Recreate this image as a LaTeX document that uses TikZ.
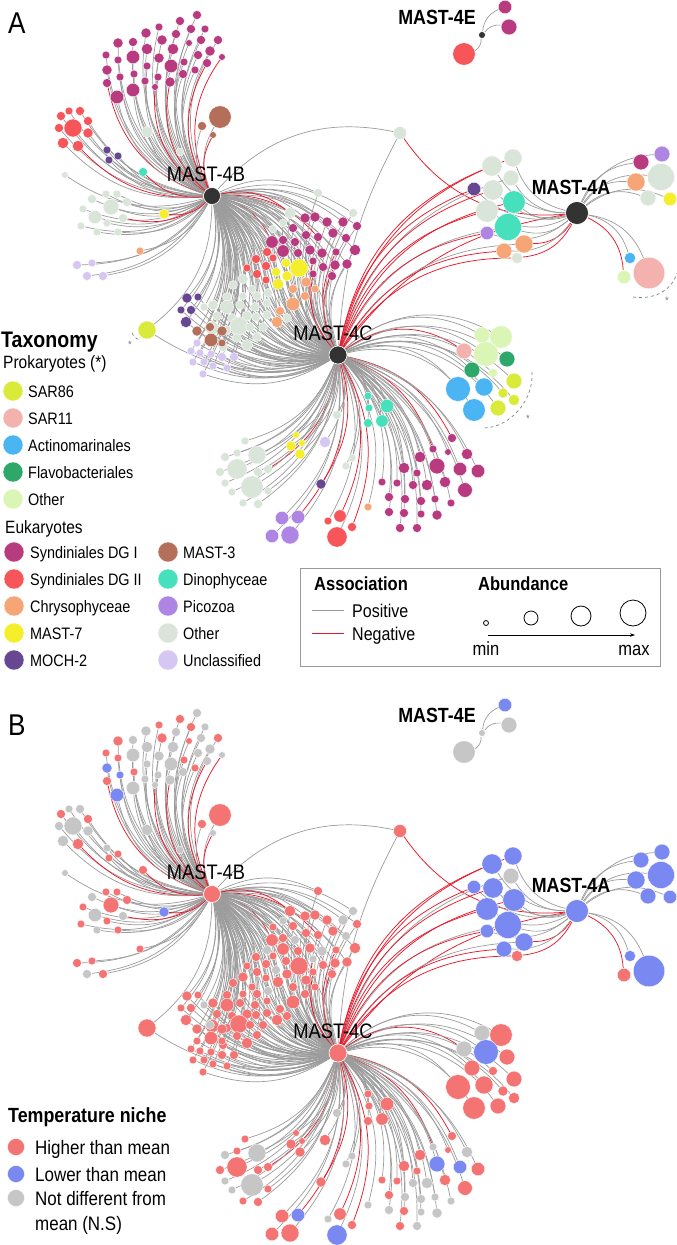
\documentclass[tikz,border=0pt]{standalone}
\usepackage{fontspec}
\setmainfont{Liberation Sans}[FakeStretch=0.87]
\usetikzlibrary{arrows.meta}
\pgfdeclarelayer{bg}
\pgfdeclarelayer{edges}
\pgfsetlayers{bg,edges,main}
\definecolor{sa}{HTML}{D9EA3A}
\definecolor{sb}{HTML}{F3B2AE}
\definecolor{ac}{HTML}{4BB4F2}
\definecolor{fl}{HTML}{2EA86A}
\definecolor{op}{HTML}{DAF5B6}
\definecolor{da}{HTML}{B83B80}
\definecolor{db}{HTML}{F6555A}
\definecolor{ch}{HTML}{F6A676}
\definecolor{my}{HTML}{F5EF2B}
\definecolor{mo}{HTML}{674791}
\definecolor{mt}{HTML}{B46F5A}
\definecolor{di}{HTML}{46E0BD}
\definecolor{pi}{HTML}{AE85E3}
\definecolor{oe}{HTML}{D8E5D8}
\definecolor{un}{HTML}{D5C6F2}
\definecolor{hub}{HTML}{333333}
\definecolor{hi}{HTML}{F47474}
\definecolor{lo}{HTML}{7A89F2}
\definecolor{ns}{HTML}{C6C6C6}
\definecolor{posc}{HTML}{9C9C9C}
\definecolor{negc}{HTML}{E8192C}
\tikzset{
 leaf/.style={circle, draw=white, line width=0.35pt, inner sep=0pt},
 hubn/.style={circle, draw=white, line width=0.6pt, inner sep=0pt},
 posl/.style={draw=posc, line width=0.7pt},
 negl/.style={draw=negc, line width=0.75pt},
 hlab/.style={inner sep=0pt, font=\fontsize{21}{24}\selectfont},
 hlabb/.style={inner sep=0pt, font=\bfseries\fontsize{20.5}{24}\selectfont},
 itemt/.style={inner sep=0pt, anchor=base west, font=\fontsize{16.6}{19}\selectfont},
 headt/.style={inner sep=0pt, anchor=base west, font=\fontsize{17.8}{20}\selectfont},
 bheadt/.style={inner sep=0pt, anchor=base west, font=\bfseries\fontsize{22.5}{26}\selectfont},
 lheadt/.style={inner sep=0pt, anchor=base west, font=\bfseries\fontsize{19}{22}\selectfont},
 litemt/.style={inner sep=0pt, anchor=base west, font=\fontsize{18.4}{21}\selectfont},
 titemt/.style={inner sep=0pt, anchor=base west, font=\fontsize{19.5}{22}\selectfont},
 astx/.style={inner sep=0pt, text=gray, font=\fontsize{11}{12}\selectfont},
 dshl/.style={draw=gray, dashed, line width=0.7pt},
}
% #1 id, #2 hub1, #3 hub2 (or empty), #4 bend, #5 list x/y/r/colA/colB/neg
\newcommand\grp[5]{%
 \foreach \px/\py/\pr/\ca/\cb/\ng [count=\i] in {#5} {%
  \ifnum\panel=0 \edef\fc{\ca}\else\edef\fc{\cb}\fi
  \node[leaf, fill=\fc, minimum size=2.25*\pr] (L\panel#1\i) at (\px,\py+\dy) {};}
 \begin{pgfonlayer}{edges}
 \foreach \px/\py/\pr/\ca/\cb/\ng [count=\i] in {#5} {%
  \ifodd\ng \def\sta{negl}\else\def\sta{posl}\fi
  \ifnum\ng>1 \def\stb{negl}\else\def\stb{posl}\fi
  \draw[\sta] (H\panel#2) to[bend left=#4] (L\panel#1\i);
  \ifx\relax#3\relax\else\draw[\stb] (H\panel#3) to[bend left=#4] (L\panel#1\i);\fi
 }
 \end{pgfonlayer}}
\begin{document}
\begin{tikzpicture}[x=1pt,y=-1pt]
\useasboundingbox (0,0) rectangle (677,1245);
\begin{pgfonlayer}{bg}
\fill[white] (0,0) rectangle (677,1245);
\end{pgfonlayer}
\foreach \panel/\dy in {0/0,1/698}{
 \ifnum\panel=0 \def\cB{hub}\def\cC{hub}\def\cA{hub}\def\cE{hub}\def\cT{oe}%
 \else\def\cB{hi}\def\cC{hi}\def\cA{lo}\def\cE{ns}\def\cT{hi}\fi
 \node[hubn, fill=\cB, minimum size=17] (H\panel B) at (212,196+\dy) {};
 \node[hubn, fill=\cC, minimum size=18] (H\panel C) at (338,355+\dy) {};
 \node[hubn, fill=\cA, minimum size=23] (H\panel A) at (577,213+\dy) {};
 \node[hubn, fill=\cE, minimum size=7] (H\panel E) at (482,35+\dy) {};
 \node[leaf, fill=\cT, minimum size=13] (L\panel T) at (400,133+\dy) {};
 \begin{pgfonlayer}{edges}
  \draw[posl] (H\panel B) to[bend left=30] (L\panel T);
  \draw[posl] (H\panel C) to[bend left=12] (L\panel T);
  \draw[negl] (H\panel A) to[bend left=30] (L\panel T);
  \draw[posl] (H\panel B) to[bend left=28] (H\panel C);
  \draw[negl] (H\panel C) to[bend left=22] (H\panel A);
 \end{pgfonlayer}
 % top magenta cluster
 \grp{t}{B}{}{30}{197/15/4/da/ns/0,180/21/4/da/hi/0,159/27/3.5/da/hi/0,191/29/4/da/hi/0,205/29/3.5/da/ns/0,
  146/33/4.5/da/ns/0,176/34/4/da/ns/0,133/42/4/da/ns/0,118/43/4.5/da/hi/0,162/40/4.5/da/hi/0,
  201/40/4/da/ns/0,218/40/4/da/hi/0,189/43/3/da/hi/0,147/49/5/da/ns/0,173/49/5/da/ns/0,
  210/51/4.5/da/ns/0,106/55/3.5/da/hi/0,133/57/6/da/ns/0,159/58/4.5/da/ns/0,198/55/4/da/ns/0,
  222/57/3/da/ns/1,118/60/3.5/da/hi/0,184/62/3.5/da/hi/0,207/63/4/da/ns/1,171/66/6/da/ns/0,
  147/66/3.5/da/ns/0,107/70/4.5/da/lo/0,134/74/3.5/da/hi/0,158/77/3.5/da/ns/0,195/70/3.5/da/hi/0,
  183/74/4/da/ns/0,120/77/3.5/da/lo/0,145/81/3.5/da/ns/0,170/82/4.5/da/ns/1,155/87/3/da/ns/1,
  107/83/4/da/hi/1,133/90/6/da/ns/0,117/97/6/da/lo/0}
 % brown and pale near 4B
 \grp{b}{B}{}{25}{220/117/10/mt/hi/0,202/126/4/mt/hi/0,213/135/3/mt/ns/1,147/132/5/oe/ns/0,180/152/3.5/oe/ns/0}
 % left red cluster
 \grp{r}{B}{}{25}{61/116/4/db/hi/0,69/111/3.5/db/ns/0,80/111/4/db/ns/0,73/128/8/db/ns/0,59/128/4/db/ns/0,
  88/121/4/db/hi/0,88/133/4.5/db/ns/0,63/143/5/db/ns/0,78/146/5/db/hi/1,
  107/150/3.5/mo/ns/0,109/160/3.5/mo/hi/0,118/156/3.5/mo/hi/0,143/172/4/di/hi/1}
 % left pale cluster
 \grp{p}{B}{}{25}{65/175/3/oe/ns/0,92/199/4/oe/ns/0,106/194/3.5/oe/hi/0,117/194/3.5/oe/hi/0,111/207/7/oe/hi/0,
  127/202/4/oe/hi/0,83/209/3.5/oe/hi/0,95/217/6/oe/ns/0,107/223/3.5/oe/hi/0,123/218/4/oe/ns/1,
  81/226/3.5/oe/hi/0,97/232/3.5/oe/ns/0,118/232/3.5/oe/hi/0,164/214/4.5/my/lo/1,140/251/3.5/ch/hi/0,
  77/265/4/un/hi/0,92/263/3.5/un/hi/0,87/276/4/un/ns/0,103/276/4/un/hi/0}
 % central cluster (4B and 4C)
 \grp{c}{B}{C}{25}{305/218/4.5/da/hi/0,315/217/4.5/da/hi/0,327/222/4.5/da/hi/0,343/222/4.5/da/ns/0,
  357/226/4/da/hi/0,293/228/4/da/hi/0,272/242/5.5/da/hi/1,283/240/4/da/hi/0,295/242/4/da/ns/0,
  306/235/4/da/hi/0,318/237/4/da/hi/1,333/233/4.5/da/hi/0,346/238/4/da/ns/0,283/251/5.5/da/hi/0,
  298/253/4/da/hi/0,310/250/4.5/da/hi/0,322/253/4.5/da/ns/0,336/252/3.5/da/hi/2,355/250/5/da/hi/0,
  313/261/3.5/da/ns/2,323/267/4/da/hi/0,335/265/4.5/da/hi/2,347/264/4.5/da/hi/0,313/274/3.5/da/hi/2,
  332/276/4/da/hi/0,267/252/4/db/ns/0,256/259/4/db/hi/0,266/266/4/db/hi/0,273/258/3.5/db/hi/0,
  247/268/3.5/db/hi/0,257/274/4/db/hi/0,266/280/3.5/db/hi/0,286/263/4/my/hi/0,299/268/8/my/hi/0,
  276/272/4/my/ns/0,287/276/4.5/my/hi/0,278/284/5/my/hi/0,306/282/4.5/ch/hi/0,315/289/3.5/ch/hi/0,
  293/289/4/ch/hi/0,305/296/4/ch/hi/0,293/304/6/ch/hi/0,280/311/4/ch/hi/0,277/322/5/ch/hi/0,
  290/213/5/oe/hi/1,283/223/3.5/oe/ns/0,273/229/3.5/oe/hi/0,318/193/4/oe/hi/0,353/213/4/oe/ns/0,
  243/279/4.5/oe/hi/0,233/285/4/oe/hi/0,252/289/3.5/oe/hi/0,268/293/4/oe/ns/0,243/296/3.5/oe/hi/0,
  257/296/4/oe/hi/0,227/297/4/oe/hi/0,213/305/4.5/oe/hi/0,204/307/3.5/oe/ns/0,227/307/6/oe/hi/0,
  240/305/4/oe/hi/0,255/307/4/oe/hi/0,267/303/3.5/oe/hi/0,217/316/4/oe/hi/0,232/318/4/oe/hi/0,
  247/316/4.5/oe/hi/0,256/317/4/oe/hi/0,267/315/4/oe/hi/0,212/328/6/oe/hi/0,227/330/4/oe/hi/0,
  239/326/8/oe/hi/0,250/327/4/oe/hi/0,263/327/4/oe/hi/0,257/337/4/oe/hi/0,237/338/4/oe/hi/0,
  223/347/4/oe/hi/0,247/345/5/oe/hi/0,287/318/4/oe/hi/0,187/298/4.5/mo/hi/0,198/297/3.5/mo/hi/0,
  181/310/3.5/mo/hi/0,191/310/4/mo/hi/0,186/322/5/mo/hi/0,197/331/4.5/mt/hi/0,210/327/4/mt/ns/0,
  222/331/4.5/mt/hi/0,211/340/6/mt/hi/0,222/343/3.5/mt/hi/0,197/343/3.5/un/hi/0,191/351/3.5/un/hi/0,
  200/353/3.5/un/hi/0,211/354/3.5/un/hi/0,222/357/4/un/hi/0,234/357/4/un/hi/0,193/362/3.5/un/hi/0,
  204/362/3.5/un/hi/0,213/366/3.5/un/hi/0,227/368/3.5/un/hi/0,203/374/3.5/un/hi/0,147/330/8/sa/hi/0}
 % left of 4A (4A and 4C)
 \grp{a}{A}{C}{28}{492/166/9/oe/lo/2,513/158/8/oe/lo/2,511/178/7/oe/ns/0,474/189/6/mo/lo/2,493/190/9/oe/lo/2,
  487/211/10/oe/lo/2,514/202/10/di/lo/2,508/227/12/di/lo/0,487/233/6/pi/lo/2,524/244/8/ch/lo/1,
  504/251/7/ch/lo/2,517/258/5/oe/hi/3}
 % right of 4A
 \grp{q}{A}{}{30}{641/162/7/da/lo/0,662/154/7/pi/lo/0,636/182/8/ch/lo/0,661/177/12/oe/lo/0,648/198/7/oe/lo/0,
  670/199/6/my/lo/0,630/258/5/ac/lo/0,624/277/6/op/hi/1,649/273/14/sb/lo/0}
 % 4E
 \grp{e}{E}{}{30}{505/7/6/da/lo/0,509/27/7/da/ns/0,464/54/10/db/ns/0}
 % prokaryotes right of 4C
 \grp{k}{C}{}{35}{482/335/7/op/ns/0,501/337/10/op/hi/0,486/354/11/op/lo/0,464/351/7/sb/ns/1,493/373/4/op/hi/0,
  507/359/7/fl/hi/0,472/370/7/fl/hi/0,514/381/7/sa/hi/0,503/393/4.5/sa/hi/0,514/400/5/sa/hi/0,
  498/408/7/sa/hi/0,458/389/11/ac/hi/0,484/387/8/ac/hi/0,474/410/10/ac/hi/0}
 % below 4C
 \grp{l}{C}{}{25}{368/396/3.5/di/hi/0,369/408/3.5/di/hi/0,387/406/6/di/hi/0,368/423/4/di/hi/0,382/421/5.5/di/hi/0,
  337/415/4/oe/ns/0,352/458/3.5/oe/ns/0,346/466/3.5/oe/ns/0,325/442/5/un/hi/0,321/484/4.5/mo/hi/1,
  368/507/3.5/ch/ns/0,452/438/4/da/hi/1,433/449/3.5/da/ns/1,448/452/3/da/hi/0,467/454/5/da/ns/0,
  420/457/5/da/hi/0,437/466/7/da/lo/0,460/469/6/da/lo/0,478/471/6/da/hi/0,404/468/5/da/hi/0,
  417/473/3.5/da/hi/0,382/482/3.5/da/hi/0,397/483/3.5/da/hi/0,413/485/4/da/ns/0,427/485/5/da/ns/0,
  445/482/5/da/hi/0,465/490/6.5/da/hi/0,389/497/4/da/hi/0,405/499/4/da/ns/0,421/501/4/da/ns/0,
  435/499/3.5/da/ns/0,451/503/3.5/da/ns/0,389/512/4/da/ns/0,404/513/4/da/hi/0,421/514/3.5/da/ns/0,
  437/515/4.5/da/ns/0,400/528/4/da/hi/0,417/528/4/da/ns/0,340/516/5.5/db/hi/1,328/521/3.5/db/ns/0,
  352/527/4/db/hi/1,337/537/9/db/lo/0}
 % lower left of 4C
 \grp{m}{C}{}{25}{245/441/3.5/oe/hi/0,257/455/8/oe/ns/0,237/453/3.5/oe/hi/0,225/457/4/oe/ns/0,237/469/9/oe/hi/0,
  220/472/4/oe/hi/0,258/472/4/oe/hi/0,268/469/4/oe/hi/1,225/483/3.5/oe/ns/0,252/487/10/oe/ns/0,
  268/491/3.5/oe/hi/0,232/492/3.5/oe/ns/0,243/503/3.5/oe/hi/0,258/504/4/oe/hi/0,296/435/3/my/hi/0,
  291/446/4.5/my/hi/0,302/443/3/my/hi/0,300/454/4.5/my/hi/0,282/518/6/pi/hi/0,298/517/6/pi/lo/1,
  272/536/6/pi/hi/0,290/535/8/pi/hi/0}
 \node[hlab] (lb\panel B) at (206,174+\dy) {MAST-4B};
 \node[hlab] (lb\panel C) at (333,333+\dy) {MAST-4C};
 \node[hlabb] (lb\panel A) at (571,187+\dy) {MAST-4A};
 \node[hlabb] (lb\panel E) at (437,17+\dy) {MAST-4E};
}
% panel letters
\node[inner sep=0, anchor=base west, font=\fontsize{30}{34}\selectfont] (pA) at (8,33) {A};
\node[inner sep=0, anchor=base west, font=\fontsize{30}{34}\selectfont] (pB) at (8,735) {B};
% prokaryote markers
\draw[dshl] (132,333) .. controls (134,337) .. (141,341);
\node[astx] (st1) at (130,345) {*};
\draw[dshl] (532,372) .. controls (534,400) and (510,428) .. (483,428);
\node[astx] (st2) at (528,419) {*};
\draw[dshl] (633,297) .. controls (655,300) and (672,290) .. (677,273);
\node[astx] (st3) at (667,301) {*};
% taxonomy legend
\node[bheadt] (taxh) at (1,347) {Taxonomy};
\node[headt] (prokh) at (3,368) {Prokaryotes (*)};
\foreach \c/\t/\yy [count=\k] in {sa/SAR86/391,sb/SAR11/418,ac/Actinomarinales/445,fl/Flavobacteriales/472,op/Other/499}{
 \node[leaf, fill=\c, minimum size=20] (pk\k) at (13,\yy) {};
 \node[itemt] (pt\k) at (28,\yy+6) {\t};}
\node[headt] (eukh) at (5,533) {Eukaryotes};
\foreach \c/\t/\yy [count=\k] in {da/Syndiniales DG I/552,db/Syndiniales DG II/579,ch/Chrysophyceae/606,my/MAST-7/633,mo/MOCH-2/660}{
 \node[leaf, fill=\c, minimum size=20] (ek\k) at (14,\yy) {};
 \node[itemt] (et\k) at (30,\yy+6) {\t};}
\foreach \c/\t/\yy [count=\k] in {mt/MAST-3/552,di/Dinophyceae/579,pi/Picozoa/606,oe/Other/633,un/Unclassified/660}{
 \node[leaf, fill=\c, minimum size=20] (fk\k) at (168,\yy) {};
 \node[itemt] (ft\k) at (183,\yy+6) {\t};}
% association / abundance box
\draw[draw=gray!80, line width=0.8pt] (300,568) rectangle (660,666);
\node[lheadt] (assh) at (314,590) {Association};
\node[lheadt] (abh) at (478,590) {Abundance};
\coordinate (ps0) at (312,610); \coordinate (ps1) at (344,610);
\coordinate (ng0) at (312,633); \coordinate (ng1) at (344,633);
\draw[posl, line width=0.9pt] (ps0) -- (ps1);
\draw[negl, line width=0.9pt] (ng0) -- (ng1);
\node[litemt] (post) at (352,617) {Positive};
\node[litemt] (negt) at (352,640) {Negative};
\node[circle, draw=black, line width=0.8pt, inner sep=0, minimum size=5] (ab1) at (486,623) {};
\node[circle, draw=black, line width=0.8pt, inner sep=0, minimum size=14] (ab2) at (531,618) {};
\node[circle, draw=black, line width=0.8pt, inner sep=0, minimum size=20] (ab3) at (581,616) {};
\node[circle, draw=black, line width=0.8pt, inner sep=0, minimum size=26] (ab4) at (633,613) {};
\coordinate (ar0) at (488,635); \coordinate (ar1) at (635,635);
\draw[line width=0.7pt, -{Stealth[length=5pt,width=3.5pt]}] (ar0) -- (ar1);
\node[inner sep=0, anchor=base, font=\fontsize{19}{22}\selectfont] (mint) at (486,655) {min};
\node[inner sep=0, anchor=base, font=\fontsize{19}{22}\selectfont] (maxt) at (634,655) {max};
% temperature legend
\node[inner sep=0, anchor=base west, font=\bfseries\fontsize{20.5}{24}\selectfont] (temh) at (8,1122) {Temperature niche};
\node[leaf, fill=hi, minimum size=17] (tc1) at (16,1147) {};
\node[leaf, fill=lo, minimum size=17] (tc2) at (16,1174) {};
\node[leaf, fill=ns, minimum size=17] (tc3) at (16,1198) {};
\node[titemt] (tt1) at (35,1154) {Higher than mean};
\node[titemt] (tt2) at (35,1181) {Lower than mean};
\node[titemt] (tt3) at (35,1205) {Not different from};
\node[titemt] (tt4) at (35,1230) {mean (N.S)};
\end{tikzpicture}
\end{document}
